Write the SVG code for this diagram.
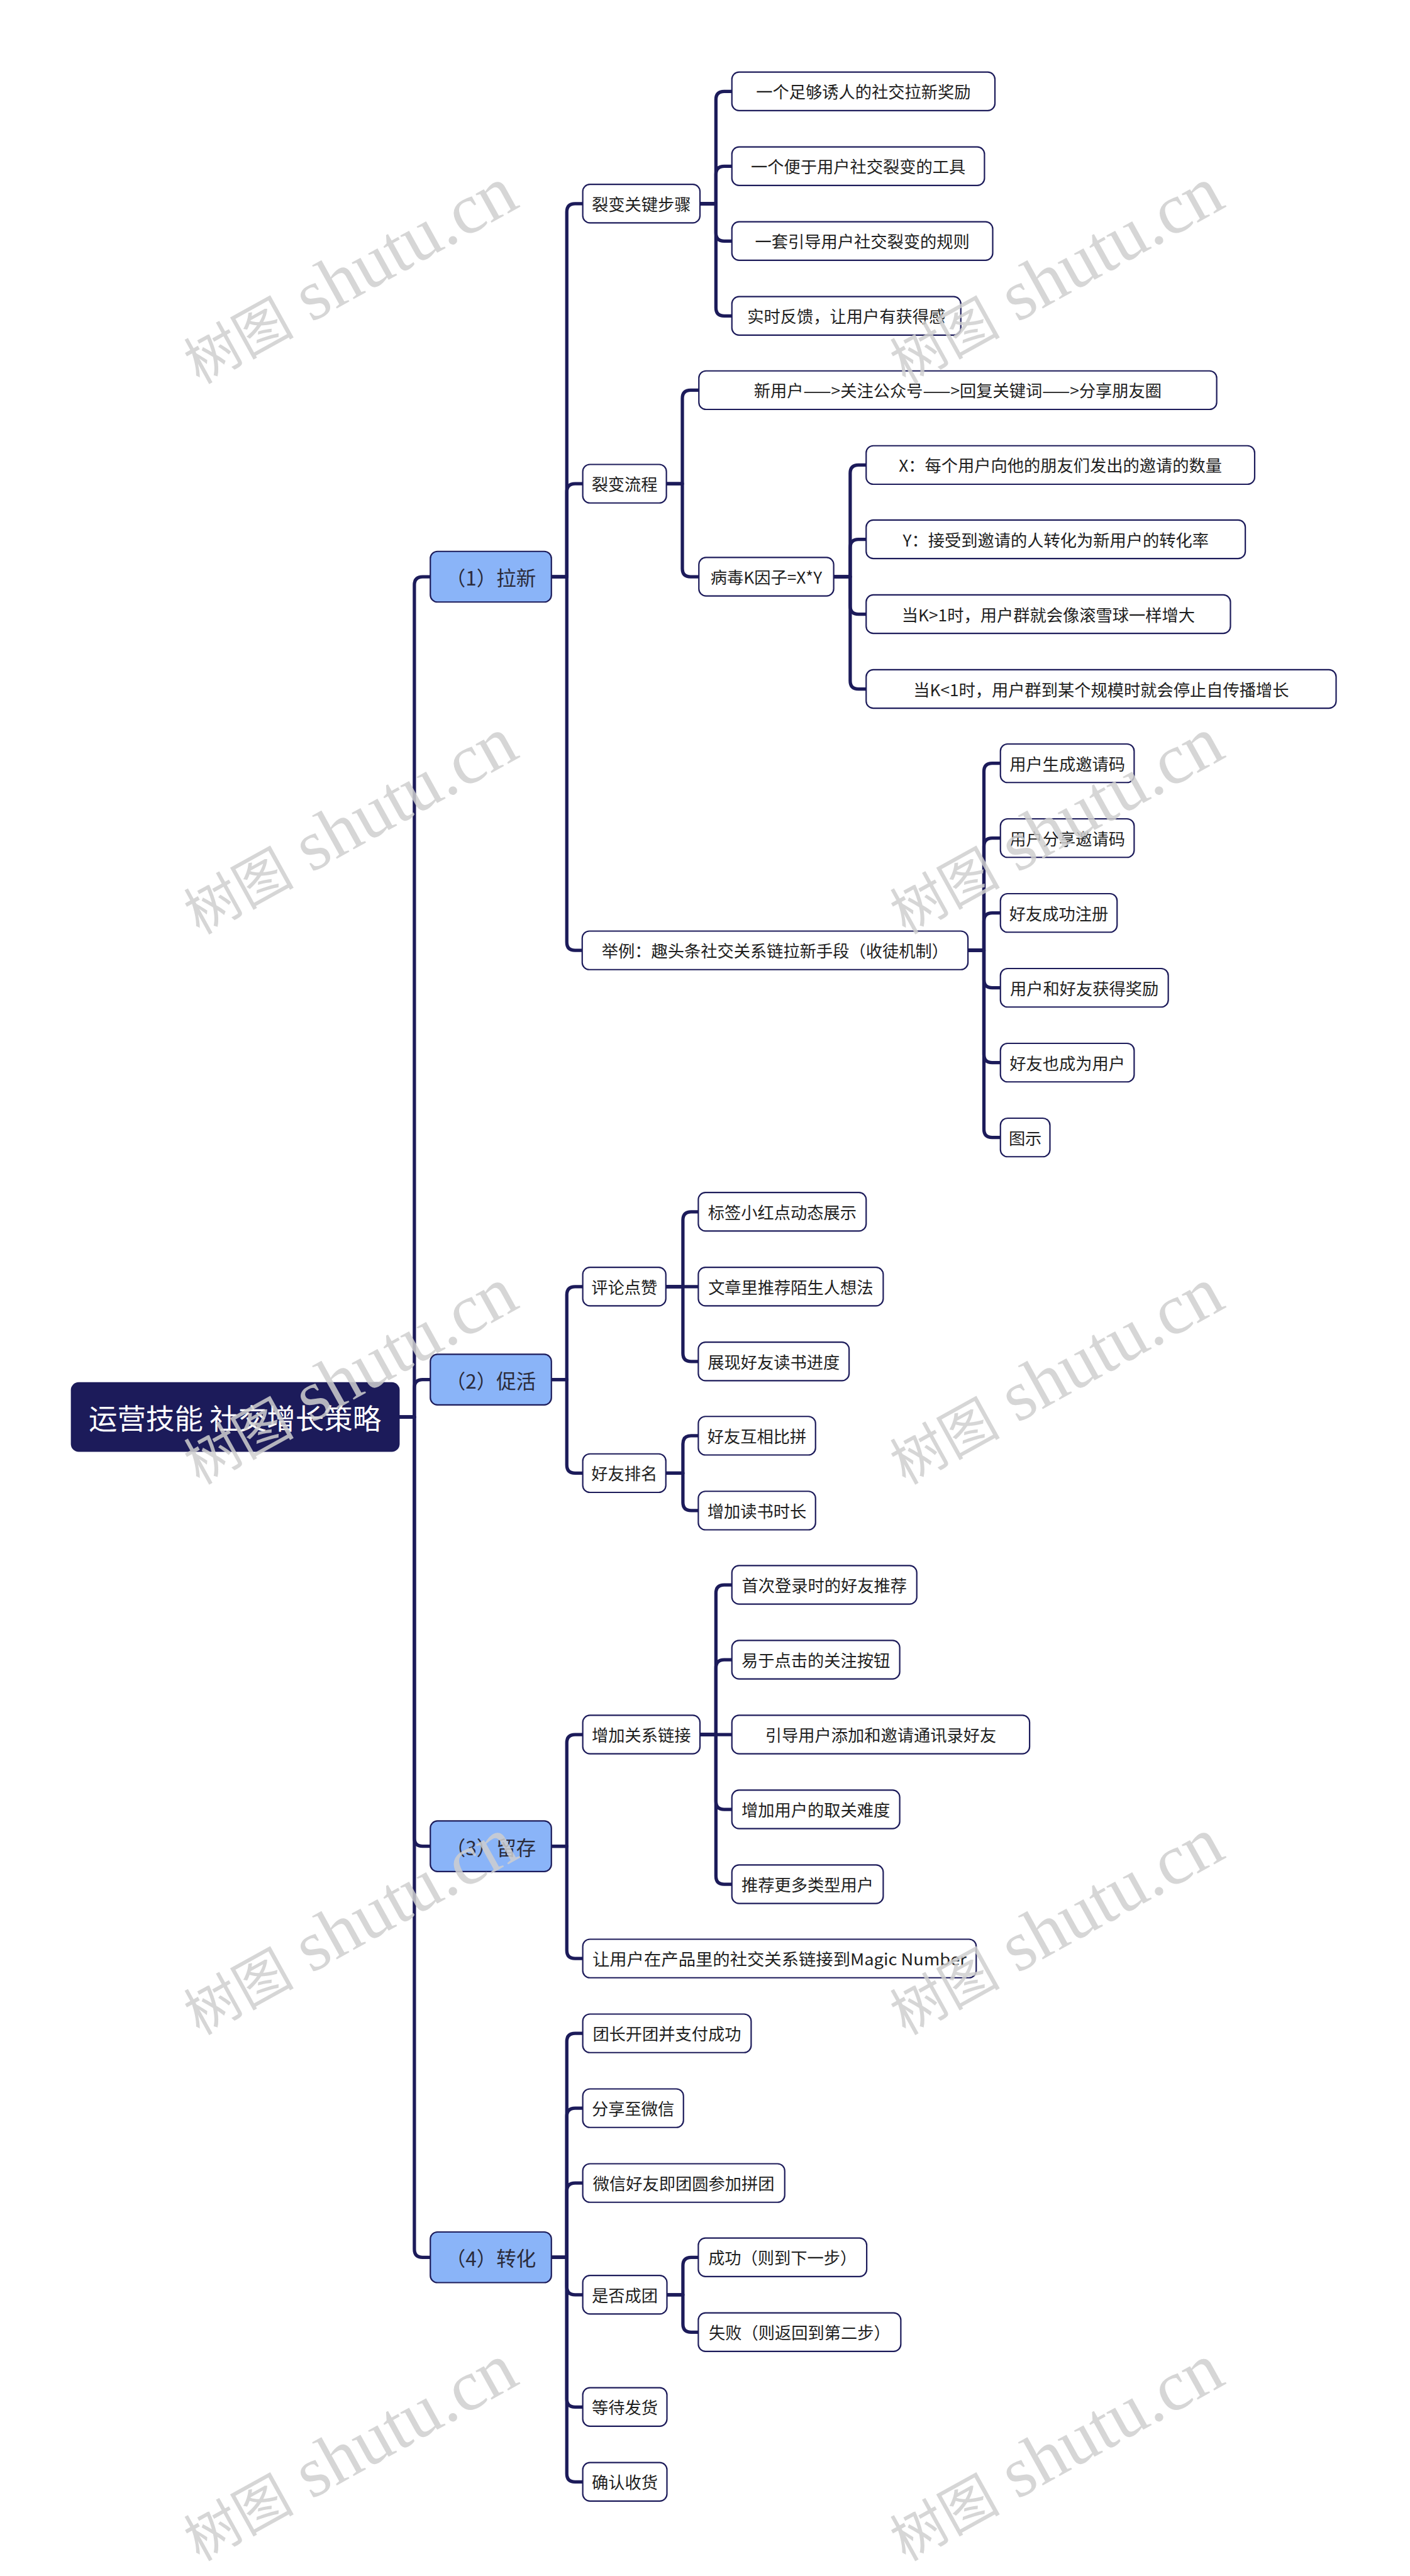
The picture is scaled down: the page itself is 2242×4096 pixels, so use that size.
<svg xmlns="http://www.w3.org/2000/svg" width="2242" height="4096" viewBox="0 0 2242 4096">
<style>
.c{fill:none;stroke:#1c1b5a;stroke-width:6;stroke-linecap:round;stroke-linejoin:round}
.n rect{fill:#ffffff;stroke:#1c1b5a;stroke-width:2.5}
.n text{font-family:"Noto Sans CJK SC","Noto Sans",sans-serif;font-size:30px;fill:#1e1e1e;text-anchor:middle;dominant-baseline:central}
.l1 rect{fill:#8ab4f8}
.l1 text{font-size:36px;fill:#2b2b3a}
.root rect{fill:#1c1b5a}
.root text{font-size:52px;fill:#ffffff}
.wm{font-family:"Liberation Serif","Noto Sans CJK SC",serif;font-size:130px;fill:#cfcfcf;opacity:0.85}
.wm .cj{font-family:"Noto Sans CJK SC",serif;font-size:100px}
</style>
<rect width="2242" height="4096" fill="#ffffff"/>
<g transform="scale(0.875)">
<g id="connectors">
<path class="c" d="M725 2575 H753 V1063 Q753 1048 768 1048 H782"/>
<path class="c" d="M725 2575 H753 V2522 Q753 2507 768 2507 H782"/>
<path class="c" d="M725 2575 H753 V3340 Q753 3355 768 3355 H782"/>
<path class="c" d="M725 2575 H753 V4087 Q753 4102 768 4102 H782"/>
<path class="c" d="M1002 1048 H1030 V385 Q1030 370 1045 370 H1059"/>
<path class="c" d="M1002 1048 H1030 V894 Q1030 879 1045 879 H1059"/>
<path class="c" d="M1002 1048 H1030 V1712 Q1030 1727 1045 1727 H1058"/>
<path class="c" d="M1272 370 H1301 V181 Q1301 166 1316 166 H1330"/>
<path class="c" d="M1272 370 H1301 V317 Q1301 302 1316 302 H1330"/>
<path class="c" d="M1272 370 H1301 V423 Q1301 438 1316 438 H1330"/>
<path class="c" d="M1272 370 H1301 V559 Q1301 574 1316 574 H1330"/>
<path class="c" d="M1211 879 H1240 V724 Q1240 709 1255 709 H1270"/>
<path class="c" d="M1211 879 H1240 V1033 Q1240 1048 1255 1048 H1270"/>
<path class="c" d="M1515 1048 H1545 V860 Q1545 845 1560 845 H1574"/>
<path class="c" d="M1515 1048 H1545 V995 Q1545 980 1560 980 H1574"/>
<path class="c" d="M1515 1048 H1545 V1101 Q1545 1116 1560 1116 H1574"/>
<path class="c" d="M1515 1048 H1545 V1237 Q1545 1252 1560 1252 H1574"/>
<path class="c" d="M1759 1727 H1788 V1402 Q1788 1387 1803 1387 H1818"/>
<path class="c" d="M1759 1727 H1788 V1538 Q1788 1523 1803 1523 H1818"/>
<path class="c" d="M1759 1727 H1788 V1674 Q1788 1659 1803 1659 H1818"/>
<path class="c" d="M1759 1727 H1788 V1780 Q1788 1795 1803 1795 H1818"/>
<path class="c" d="M1759 1727 H1788 V1916 Q1788 1931 1803 1931 H1818"/>
<path class="c" d="M1759 1727 H1788 V2052 Q1788 2067 1803 2067 H1818"/>
<path class="c" d="M1002 2507 H1030 V2353 Q1030 2338 1045 2338 H1059"/>
<path class="c" d="M1002 2507 H1030 V2662 Q1030 2677 1045 2677 H1059"/>
<path class="c" d="M1210 2338 H1241 V2217 Q1241 2202 1256 2202 H1269"/>
<path class="c" d="M1210 2338 H1269"/>
<path class="c" d="M1210 2338 H1241 V2459 Q1241 2474 1256 2474 H1269"/>
<path class="c" d="M1210 2677 H1241 V2624 Q1241 2609 1256 2609 H1269"/>
<path class="c" d="M1210 2677 H1241 V2730 Q1241 2745 1256 2745 H1269"/>
<path class="c" d="M1002 3355 H1030 V3167 Q1030 3152 1045 3152 H1059"/>
<path class="c" d="M1002 3355 H1030 V3544 Q1030 3559 1045 3559 H1059"/>
<path class="c" d="M1272 3152 H1301 V2895 Q1301 2880 1316 2880 H1330"/>
<path class="c" d="M1272 3152 H1301 V3031 Q1301 3016 1316 3016 H1330"/>
<path class="c" d="M1272 3152 H1330"/>
<path class="c" d="M1272 3152 H1301 V3273 Q1301 3288 1316 3288 H1330"/>
<path class="c" d="M1272 3152 H1301 V3409 Q1301 3424 1316 3424 H1330"/>
<path class="c" d="M1002 4102 H1030 V3710 Q1030 3695 1045 3695 H1059"/>
<path class="c" d="M1002 4102 H1030 V3846 Q1030 3831 1045 3831 H1059"/>
<path class="c" d="M1002 4102 H1030 V3982 Q1030 3967 1045 3967 H1059"/>
<path class="c" d="M1002 4102 H1030 V4155 Q1030 4170 1045 4170 H1059"/>
<path class="c" d="M1002 4102 H1030 V4359 Q1030 4374 1045 4374 H1059"/>
<path class="c" d="M1002 4102 H1030 V4495 Q1030 4510 1045 4510 H1059"/>
<path class="c" d="M1212 4170 H1241 V4117 Q1241 4102 1256 4102 H1269"/>
<path class="c" d="M1212 4170 H1241 V4223 Q1241 4238 1256 4238 H1269"/>
</g>
<g id="root" class="n root"><rect x="130" y="2513" width="595" height="124" rx="13"/><text x="427" y="2575">运营技能 社交增长策略</text></g>
<g id="n1" class="n l1"><rect x="782" y="1002" width="220" height="92" rx="13"/><text x="892" y="1048">（1）拉新</text></g>
<g id="n2" class="n l1"><rect x="782" y="2461" width="220" height="92" rx="13"/><text x="892" y="2507">（2）促活</text></g>
<g id="n3" class="n l1"><rect x="782" y="3309" width="220" height="92" rx="13"/><text x="892" y="3355">（3）留存</text></g>
<g id="n4" class="n l1"><rect x="782" y="4056" width="220" height="92" rx="13"/><text x="892" y="4102">（4）转化</text></g>
<g id="n1a" class="n"><rect x="1059" y="335" width="213" height="70" rx="13"/><text x="1165.5" y="370">裂变关键步骤</text></g>
<g id="n1a1" class="n"><rect x="1330" y="131" width="478" height="70" rx="13"/><text x="1569" y="166">一个足够诱人的社交拉新奖励</text></g>
<g id="n1a2" class="n"><rect x="1330" y="267" width="459" height="70" rx="13"/><text x="1559.5" y="302">一个便于用户社交裂变的工具</text></g>
<g id="n1a3" class="n"><rect x="1330" y="403" width="474" height="70" rx="13"/><text x="1567" y="438">一套引导用户社交裂变的规则</text></g>
<g id="n1a4" class="n"><rect x="1330" y="539" width="416" height="70" rx="13"/><text x="1538" y="574">实时反馈，让用户有获得感</text></g>
<g id="n1b" class="n"><rect x="1059" y="844" width="152" height="70" rx="13"/><text x="1135" y="879">裂变流程</text></g>
<g id="n1b1" class="n"><rect x="1270" y="674" width="941" height="70" rx="13"/><text x="1740.5" y="709">新用户——&gt;关注公众号——&gt;回复关键词——&gt;分享朋友圈</text></g>
<g id="n1b2" class="n"><rect x="1270" y="1013" width="245" height="70" rx="13"/><text x="1392.5" y="1048">病毒K因子=X*Y</text></g>
<g id="n1b2a" class="n"><rect x="1574" y="810" width="706" height="70" rx="13"/><text x="1927" y="845">X：每个用户向他的朋友们发出的邀请的数量</text></g>
<g id="n1b2b" class="n"><rect x="1574" y="945" width="689" height="70" rx="13"/><text x="1918.5" y="980">Y：接受到邀请的人转化为新用户的转化率</text></g>
<g id="n1b2c" class="n"><rect x="1574" y="1081" width="662" height="70" rx="13"/><text x="1905" y="1116">当K&gt;1时，用户群就会像滚雪球一样增大</text></g>
<g id="n1b2d" class="n"><rect x="1574" y="1217" width="854" height="70" rx="13"/><text x="2001" y="1252">当K&lt;1时，用户群到某个规模时就会停止自传播增长</text></g>
<g id="n1c" class="n"><rect x="1058" y="1692" width="701" height="70" rx="13"/><text x="1408.5" y="1727">举例：趣头条社交关系链拉新手段（收徒机制）</text></g>
<g id="n1c1" class="n"><rect x="1818" y="1352" width="243" height="70" rx="13"/><text x="1939.5" y="1387">用户生成邀请码</text></g>
<g id="n1c2" class="n"><rect x="1818" y="1488" width="243" height="70" rx="13"/><text x="1939.5" y="1523">用户分享邀请码</text></g>
<g id="n1c3" class="n"><rect x="1818" y="1624" width="212" height="70" rx="13"/><text x="1924" y="1659">好友成功注册</text></g>
<g id="n1c4" class="n"><rect x="1818" y="1760" width="305" height="70" rx="13"/><text x="1970.5" y="1795">用户和好友获得奖励</text></g>
<g id="n1c5" class="n"><rect x="1818" y="1896" width="243" height="70" rx="13"/><text x="1939.5" y="1931">好友也成为用户</text></g>
<g id="n1c6" class="n"><rect x="1818" y="2032" width="90" height="70" rx="13"/><text x="1863" y="2067">图示</text></g>
<g id="n2a" class="n"><rect x="1059" y="2303" width="151" height="70" rx="13"/><text x="1134.5" y="2338">评论点赞</text></g>
<g id="n2a1" class="n"><rect x="1269" y="2167" width="305" height="70" rx="13"/><text x="1421.5" y="2202">标签小红点动态展示</text></g>
<g id="n2a2" class="n"><rect x="1269" y="2303" width="336" height="70" rx="13"/><text x="1437" y="2338">文章里推荐陌生人想法</text></g>
<g id="n2a3" class="n"><rect x="1269" y="2439" width="274" height="70" rx="13"/><text x="1406" y="2474">展现好友读书进度</text></g>
<g id="n2b" class="n"><rect x="1059" y="2642" width="151" height="70" rx="13"/><text x="1134.5" y="2677">好友排名</text></g>
<g id="n2b1" class="n"><rect x="1269" y="2574" width="213" height="70" rx="13"/><text x="1375.5" y="2609">好友互相比拼</text></g>
<g id="n2b2" class="n"><rect x="1269" y="2710" width="213" height="70" rx="13"/><text x="1375.5" y="2745">增加读书时长</text></g>
<g id="n3a" class="n"><rect x="1059" y="3117" width="213" height="70" rx="13"/><text x="1165.5" y="3152">增加关系链接</text></g>
<g id="n3a1" class="n"><rect x="1330" y="2845" width="336" height="70" rx="13"/><text x="1498" y="2880">首次登录时的好友推荐</text></g>
<g id="n3a2" class="n"><rect x="1330" y="2981" width="305" height="70" rx="13"/><text x="1482.5" y="3016">易于点击的关注按钮</text></g>
<g id="n3a3" class="n"><rect x="1330" y="3117" width="541" height="70" rx="13"/><text x="1600.5" y="3152">引导用户添加和邀请通讯录好友</text></g>
<g id="n3a4" class="n"><rect x="1330" y="3253" width="305" height="70" rx="13"/><text x="1482.5" y="3288">增加用户的取关难度</text></g>
<g id="n3a5" class="n"><rect x="1330" y="3389" width="275" height="70" rx="13"/><text x="1467.5" y="3424">推荐更多类型用户</text></g>
<g id="n3b" class="n"><rect x="1059" y="3524" width="715" height="70" rx="13"/><text x="1416.5" y="3559" textLength="680" lengthAdjust="spacingAndGlyphs">让用户在产品里的社交关系链接到Magic Number</text></g>
<g id="n4a" class="n"><rect x="1059" y="3660" width="306" height="70" rx="13"/><text x="1212" y="3695">团长开团并支付成功</text></g>
<g id="n4b" class="n"><rect x="1059" y="3796" width="183" height="70" rx="13"/><text x="1150.5" y="3831">分享至微信</text></g>
<g id="n4c" class="n"><rect x="1059" y="3932" width="367" height="70" rx="13"/><text x="1242.5" y="3967">微信好友即团圆参加拼团</text></g>
<g id="n4d" class="n"><rect x="1059" y="4135" width="153" height="70" rx="13"/><text x="1135.5" y="4170">是否成团</text></g>
<g id="n4d1" class="n"><rect x="1269" y="4067" width="306" height="70" rx="13"/><text x="1422" y="4102">成功（则到下一步）</text></g>
<g id="n4d2" class="n"><rect x="1269" y="4203" width="368" height="70" rx="13"/><text x="1453" y="4238">失败（则返回到第二步）</text></g>
<g id="n4e" class="n"><rect x="1059" y="4339" width="153" height="70" rx="13"/><text x="1135.5" y="4374">等待发货</text></g>
<g id="n4f" class="n"><rect x="1059" y="4475" width="153" height="70" rx="13"/><text x="1135.5" y="4510">确认收货</text></g>
<g id="watermarks">
<text class="wm" x="362" y="699" transform="rotate(-29 362 699)"><tspan class="cj">树图</tspan> shutu.cn</text>
<text class="wm" x="1645" y="699" transform="rotate(-29 1645 699)"><tspan class="cj">树图</tspan> shutu.cn</text>
<text class="wm" x="362" y="1699" transform="rotate(-29 362 1699)"><tspan class="cj">树图</tspan> shutu.cn</text>
<text class="wm" x="1645" y="1699" transform="rotate(-29 1645 1699)"><tspan class="cj">树图</tspan> shutu.cn</text>
<text class="wm" x="362" y="2699" transform="rotate(-29 362 2699)"><tspan class="cj">树图</tspan> shutu.cn</text>
<text class="wm" x="1645" y="2699" transform="rotate(-29 1645 2699)"><tspan class="cj">树图</tspan> shutu.cn</text>
<text class="wm" x="362" y="3699" transform="rotate(-29 362 3699)"><tspan class="cj">树图</tspan> shutu.cn</text>
<text class="wm" x="1645" y="3699" transform="rotate(-29 1645 3699)"><tspan class="cj">树图</tspan> shutu.cn</text>
<text class="wm" x="362" y="4655" transform="rotate(-29 362 4655)"><tspan class="cj">树图</tspan> shutu.cn</text>
<text class="wm" x="1645" y="4655" transform="rotate(-29 1645 4655)"><tspan class="cj">树图</tspan> shutu.cn</text>
</g>
</g>
</svg>
